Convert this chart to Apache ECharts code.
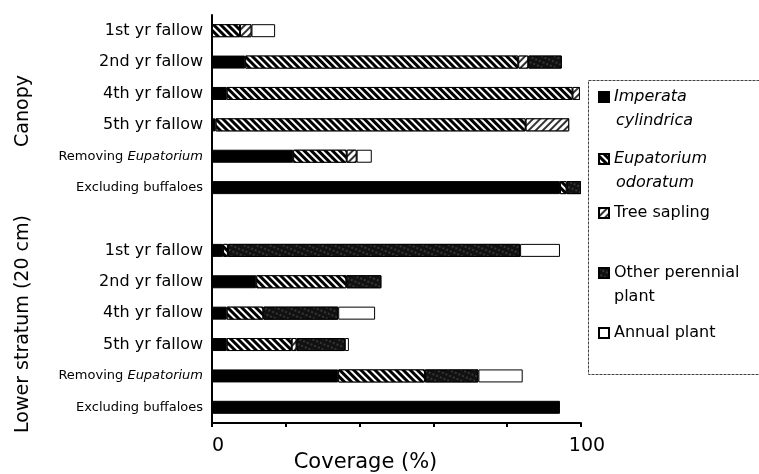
<!DOCTYPE html>
<html>
<head>
<meta charset="utf-8">
<script src="https://cdn.jsdelivr.net/npm/echarts@6/dist/echarts.min.js"></script>
<style>html,body{margin:0;padding:0;background:#fff;}#c{width:759px;height:474px;}</style>
</head>
<body>
<div id="c"></div>
<script>
// Row labels (top to bottom); the empty string is the gap row between groups
const rowLabels = ['1st yr fallow','2nd yr fallow','4th yr fallow','5th yr fallow','Removing Eupatorium','Excluding buffaloes','',
                   '1st yr fallow','2nd yr fallow','4th yr fallow','5th yr fallow','Removing Eupatorium','Excluding buffaloes'];
const seriesNames = ['Imperata cylindrica','Eupatorium odoratum','Tree sapling','Other perennial plant','Annual plant'];
const xTicks = [0, 100];
const groupLabels = ['Canopy','Lower stratum (20 cm)'];
// Coverage (%) per row
const imperata   = [null, 9,   4,    1,    22,   94.3, null, 3,    12,   4,    4,    34.2, 94.3];
const eupatorium = [7.6,  74,  93.7, 84,   14.5, 1.8,  null, 1.3,  24.4, 9.9,  17.6, 23.5, null];
const sapling    = [3.1,  2.7, 2,    11.8, 2.7,  null, null, null, null, null, 1.3,  null, null];
const perennial  = [null, 9.1, null, null, null, 3.9,  null, 79.2, 9.5,  20.3, 13.1, 14.5, null];
const annual     = [6.4,  null,null, null, 4.1,  null, null, 10.8, null, 10,   1.1,  12,   null];

const FONT = 'DejaVu Sans';
const chart = echarts.init(document.getElementById('c'));

const styles = [
  {color:'#000', borderColor:'#000', borderWidth:1},
  {color:'#fff', borderColor:'#000', borderWidth:1,
   decal:{symbol:'rect', symbolSize:1, color:'#000', backgroundColor:'#fff', dashArrayX:[1,0], dashArrayY:[2.4,1.8], rotation:Math.PI/4}},
  {color:'#fff', borderColor:'#000', borderWidth:1,
   decal:{symbol:'rect', symbolSize:1, color:'#333', backgroundColor:'#fff', dashArrayX:[1,0], dashArrayY:[1.4,2.4], rotation:-Math.PI/4}},
  {color:'#000', borderColor:'#000', borderWidth:1,
   decal:{symbol:'rect', symbolSize:0.6, color:'rgba(255,255,255,0.5)', backgroundColor:'#111', dashArrayX:[2,2], dashArrayY:[2,3], rotation:0.4}},
  {color:'#fff', borderColor:'#000', borderWidth:1}
];
const dataArr = [imperata, eupatorium, sapling, perennial, annual];

const series = seriesNames.map((n,i)=>({
  name:n, type:'bar', stack:'cov', barWidth:13,
  itemStyle:styles[i], emphasis:{disabled:true},
  data:dataArr[i]
}));

const legendCenters = [97, 159, 213, 273, 333];
const legendFirstLines = ['{it|Imperata}','{it|Eupatorium}','{n|Tree sapling}','{n|Other perennial}','{n|Annual plant}'];
const legends = seriesNames.map((n,i)=>({
  data:[n], orient:'vertical', left:598, top:legendCenters[i]-10,
  itemWidth:10, itemHeight:10, itemGap:0, padding:0, selectedMode:false,
  icon:'rect',
  formatter:()=>legendFirstLines[i],
  textStyle:{fontFamily:FONT, fontSize:16, color:'#000', lineHeight:20,
    rich:{it:{fontFamily:FONT, fontSize:16, fontStyle:'italic', color:'#000', lineHeight:20},
          n:{fontFamily:FONT, fontSize:16, color:'#000', lineHeight:20}}}
}));

chart.setOption({
  animation:false,
  backgroundColor:'#fff',
  grid:{left:212, right:178, top:15, bottom:51, containLabel:false, outerBoundsMode:'none'},
  xAxis:{type:'value', min:0, max:100, interval:20,
    axisLine:{show:true, lineStyle:{color:'#000', width:2}},
    axisTick:{show:true, length:4, lineStyle:{color:'#000', width:2}},
    splitLine:{show:false},
    axisLabel:{margin:14, fontFamily:FONT, fontSize:19, color:'#000', padding:[0,0,0,12],
      formatter:v=> xTicks.indexOf(v)>=0 ? String(v) : ''},
    name:'Coverage (%)', nameLocation:'middle', nameGap:29, nameMoveOverlap:false,
    nameTextStyle:{fontFamily:FONT, fontSize:21, color:'#000', padding:[0,62,0,0]}
  },
  yAxis:{type:'category', inverse:true, data:rowLabels,
    axisLine:{show:true, lineStyle:{color:'#000', width:2}},
    axisTick:{show:false},
    axisLabel:{margin:9, color:'#000', interval:0,
      formatter:v=>{
        if(!v) return '';
        if(v.indexOf('fallow')>=0) return '{big|'+v+'}';
        if(v.indexOf('Eupatorium')>=0) return '{sm|Removing }{it|Eupatorium}';
        return '{sm|'+v+'}';
      },
      rich:{big:{fontFamily:FONT, fontSize:16, color:'#000'},
            sm:{fontFamily:FONT, fontSize:13, color:'#000'},
            it:{fontFamily:FONT, fontSize:13, fontStyle:'italic', color:'#000'}}
    }
  },
  legend:legends,
  graphic:[
    {type:'rect', left:586, top:78, shape:{width:200, height:294},
     style:{fill:null, stroke:'#444', lineWidth:1, lineDash:[3,1]}, silent:true},
    {type:'text', x:616, y:121, style:{text:'cylindrica', font:'italic 16px "DejaVu Sans"', fill:'#000', verticalAlign:'middle'}},
    {type:'text', x:616, y:183, style:{text:'odoratum', font:'italic 16px "DejaVu Sans"', fill:'#000', verticalAlign:'middle'}},
    {type:'text', x:614, y:297, style:{text:'plant', font:'16px "DejaVu Sans"', fill:'#000', verticalAlign:'middle'}},
    {type:'text', x:23, y:111, rotation:Math.PI/2,
     style:{text:groupLabels[0], font:'19px "DejaVu Sans"', fill:'#000', align:'center', verticalAlign:'middle'}},
    {type:'text', x:23, y:324, rotation:Math.PI/2,
     style:{text:groupLabels[1], font:'19px "DejaVu Sans"', fill:'#000', align:'center', verticalAlign:'middle'}}
  ],
  series:series
});
</script>
</body>
</html>
